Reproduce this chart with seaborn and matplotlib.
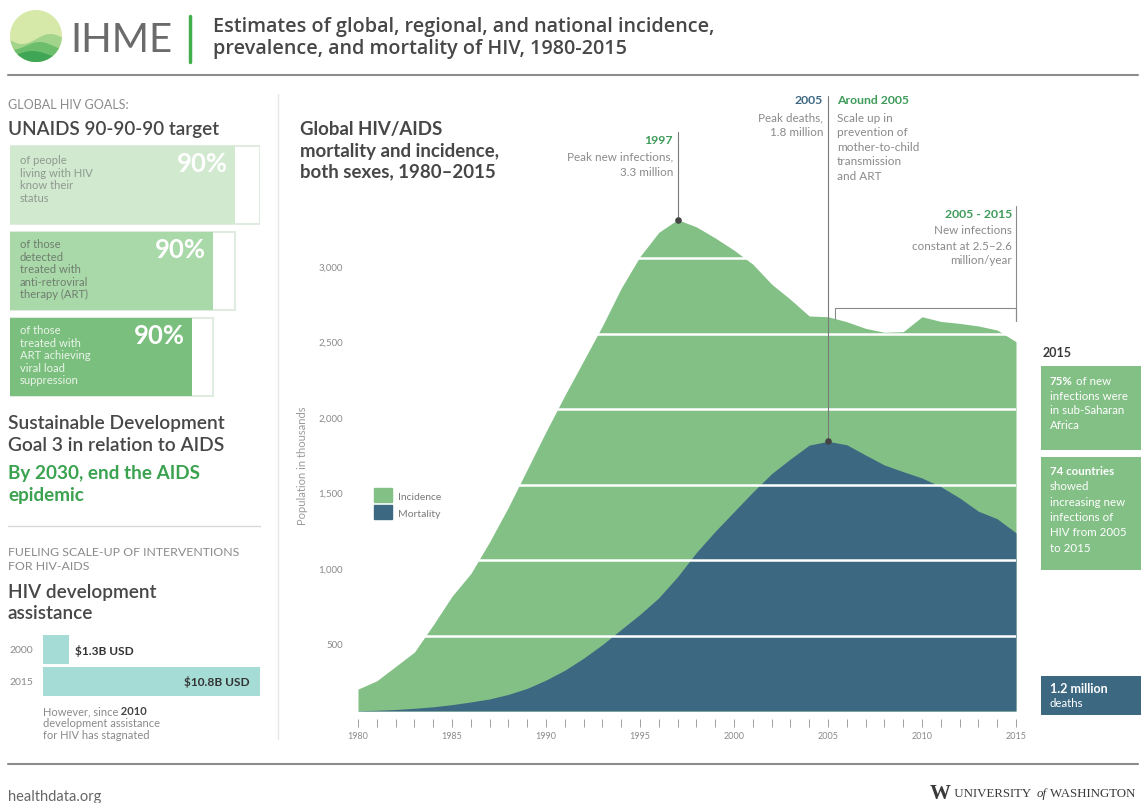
import numpy as np
import matplotlib
matplotlib.use("Agg")
import matplotlib.pyplot as plt
import seaborn as sns
from matplotlib.patches import Patch, Circle, Polygon
from matplotlib.transforms import ScaledTranslation

# ── data ─────────────────────────────────────────────────────────────────────
years = list(range(1980, 2016))
incidence = [145, 200, 295, 390, 570, 760, 910, 1120, 1350, 1600,
             1850, 2090, 2320, 2550, 2800, 3010, 3170, 3254, 3206, 3133,
             3052, 2959, 2827, 2726, 2616, 2611, 2578, 2534, 2508, 2512,
             2611, 2580, 2567, 2550, 2523, 2446]
mortality = [2, 5, 10, 18, 28, 42, 60, 80, 110, 150,
             205, 270, 350, 440, 540, 640, 750, 890, 1050, 1190,
             1320, 1450, 1572, 1669, 1761, 1786, 1763, 1695, 1629, 1585,
             1543, 1486, 1411, 1323, 1273, 1180]
y_ticks = [500, 1000, 1500, 2000, 2500, 3000]

goal_keys = ["know", "treated", "suppressed"]
goal_outline = [100, 90, 81]
goal_fill = [90, 81, 72.9]
goal_pct = ["90%", "90%", "90%"]

aid_years = ["2000", "2015"]
aid_usd_b = [1.3, 10.8]

# ── colours ──────────────────────────────────────────────────────────────────
GREEN = "#83C086"
BLUE = "#3D6882"
DARK = "#474747"
GRAY = "#8A8A8A"
GTEXT = "#3BA24F"

W, H = 1141, 804
sns.set_theme(style="white")
plt.rcParams["font.family"] = ["Lato", "DejaVu Sans"]

fig = plt.figure(figsize=(W / 100, H / 100), dpi=100)
fig.patch.set_facecolor("white")


def px_axes(l, t, r, b, **kw):
    return fig.add_axes([l / W, 1 - b / H, (r - l) / W, (b - t) / H], **kw)


# overlay in pixel coordinates for text and decoration
ov = px_axes(0, 0, W, H, zorder=10)
ov.set_xlim(0, W)
ov.set_ylim(H, 0)
ov.set_axis_off()
ov.patch.set_visible(False)
renderer = fig.canvas.get_renderer()


def txt(x, y, s, size=8, color=GRAY, weight="normal", ha="left", **kw):
    return ov.text(x, y, s, fontsize=size, color=color, fontweight=weight,
                   ha=ha, va="center", **kw)


def rich(x, y, parts, size=8):
    # spaces go at the start of a part, trailing ones are not measured
    for s, weight, color in parts:
        t = txt(x, y, s, size=size, color=color, weight=weight)
        x += t.get_window_extent(renderer=renderer).width


# ── header ───────────────────────────────────────────────────────────────────
logo = Circle((36, 37), 26, fc="#D6E9A8", ec="none")
ov.add_patch(logo)
xs = np.linspace(8, 64, 60)
for base, amp, ph, col in [(40, 5, 0.0, "#A3D48C"), (47, 4, 1.2, "#6DBE6C"), (55, 3, 2.0, "#3FA655")]:
    top = base + amp * np.sin((xs - 8) / 9 + ph)
    pts = np.column_stack([np.r_[xs, xs[::-1]], np.r_[top, np.full_like(xs, 70)]])
    p = Polygon(pts, fc=col, ec="none")
    ov.add_patch(p)
    p.set_clip_path(logo)
txt(70, 40, "IHME", size=29, color="#6B6B6B")
ov.plot([190, 190], [17, 63], color="#43AE4E", lw=2.5)
open_sans = ["Open Sans", "DejaVu Sans"]
txt(213, 27, "Estimates of global, regional, and national incidence,", size=14.2,
    color=DARK, weight="semibold", family=open_sans)
txt(213, 49, "prevalence, and mortality of HIV, 1980-2015", size=14.2,
    color=DARK, weight="semibold", family=open_sans)
ov.plot([8, 1138], [76, 76], color="#8C8C8C", lw=1.5)

# ── footer ───────────────────────────────────────────────────────────────────
ov.plot([8, 1138], [765, 765], color="#8C8C8C", lw=1.5)
txt(8, 797, "healthdata.org", size=10.5, color="#666666")
serif = ["Liberation Serif", "DejaVu Serif"]
x0 = 930
for s, st, sz, wt in [("W", "normal", 15, "bold"), (" UNIVERSITY ", "normal", 9.3, "normal"),
                      ("of", "italic", 9.3, "normal"), (" WASHINGTON", "normal", 9.3, "normal")]:
    t = txt(x0, 794, s, size=sz, color="#3A3A3A", weight=wt, family=serif, style=st)
    x0 += t.get_window_extent(renderer=renderer).width + (3 if s.endswith(" ") else 0)

# separators
ov.plot([278, 278], [95, 740], color="#E6E6E6", lw=1)
ov.plot([8, 260], [527, 527], color="#D9D9D9", lw=1)

# ── left panel: 90-90-90 ─────────────────────────────────────────────────────
txt(8, 105, "GLOBAL HIV GOALS:", size=9, color=GRAY)
txt(8, 129, "UNAIDS 90-90-90 target", size=13.6, color=DARK, weight="semibold")

gax = px_axes(10, 143, 260, 401)
sns.barplot(x=goal_outline, y=goal_keys, color="white", edgecolor="#E0ECDF",
            linewidth=1.5, width=0.9, saturation=1, ax=gax)
sns.barplot(x=goal_fill, y=goal_keys, hue=goal_keys, legend=False,
            palette=["#D0E9CF", "#A9D8A9", "#7ABF7D"], width=0.9, linewidth=0,
            saturation=1, ax=gax)
gax.set_xlim(0, 100)
gax.set_ylim(2.5, -0.5)
gax.set_axis_off()
for i, (v, s) in enumerate(zip(goal_fill, goal_pct)):
    gax.text(v - 2.8, i - 0.25, s, ha="right", va="center", fontsize=18.5,
             fontweight="bold", color="white")

goal_text = [
    (["of people", "living with HIV", "know their", "status"], 161, "#8F9A8F"),
    (["of those", "detected", "treated with", "anti-retroviral", "therapy (ART)"], 245, "#6F7F6F"),
    (["of those", "treated with", "ART achieving", "viral load", "suppression"], 331, "#EAF4EA"),
]
for lines, y0, col in goal_text:
    for k, line in enumerate(lines):
        txt(20, y0 + k * 12.4, line, size=8.1, color=col)

txt(8, 424, "Sustainable Development", size=13.8, color=DARK, weight="semibold")
txt(8, 446, "Goal 3 in relation to AIDS", size=13.8, color=DARK, weight="semibold")
txt(8, 474, "By 2030, end the AIDS", size=13.6, color=GTEXT, weight="bold")
txt(8, 496, "epidemic", size=13.6, color=GTEXT, weight="bold")

txt(8, 553, "FUELING SCALE-UP OF INTERVENTIONS", size=8.9, color=GRAY)
txt(8, 567, "FOR HIV-AIDS", size=8.9, color=GRAY)
txt(8, 593, "HIV development", size=13.7, color=DARK, weight="semibold")
txt(8, 614, "assistance", size=13.7, color=DARK, weight="semibold")

aax = px_axes(43, 635, 260, 698)
sns.barplot(x=aid_usd_b, y=aid_years, color="#A6DCD6", width=0.92,
            linewidth=0, saturation=1, ax=aax)
aax.set_xlim(0, aid_usd_b[1])
aax.set_ylim(1.5, -0.5)
aax.set_axis_off()
for i, v in enumerate(aid_usd_b):
    aax.text(-0.5, i, aid_years[i], ha="right", va="center", fontsize=7.5, color=GRAY)
aax.text(aid_usd_b[0] + 0.3, 0, f"\\${aid_usd_b[0]}B USD", ha="left", va="center",
         fontsize=8.6, fontweight="bold", color="#333333")
aax.text(aid_usd_b[1] - 0.5, 1, f"\\${aid_usd_b[1]}B USD", ha="right", va="center",
         fontsize=8.6, fontweight="bold", color="#333333")

rich(43, 712, [("However, since", "normal", GRAY), (" 2010", "bold", "#444444")], size=8)
txt(43, 724, "development assistance", size=8)
txt(43, 736, "for HIV has stagnated", size=8)

# ── main chart ───────────────────────────────────────────────────────────────
Y0, S = 712, 453 / 3000  # baseline pixel, pixels per thousand
YMAX = 3400
ax = px_axes(358, Y0 - YMAX * S, 1016, Y0)
ax.fill_between(years, 0, incidence, color=GREEN, lw=0, zorder=1)
ax.fill_between(years, 0, mortality, color=BLUE, lw=0, zorder=1.5)
ax.set_xlim(1980, 2015)
ax.set_ylim(0, YMAX)
ax.set_yticks(y_ticks)
ax.set_yticklabels([f"{v:,}" for v in y_ticks])
ax.grid(axis="y", color="white", lw=1.8)
ax.grid(axis="x", visible=False)
ax.set_axisbelow(False)
for sp in ["left", "right", "top"]:
    ax.spines[sp].set_visible(False)
ax.spines["bottom"].set_position(("outward", 5.8))
ax.spines["bottom"].set_visible(False)
ax.set_xticks(years)
ax.set_xticklabels([str(y) if y % 5 == 0 else "" for y in years])
ax.tick_params(axis="x", bottom=True, length=5.8, width=0.7, color="#A0A0A0",
               labelsize=6.5, labelcolor=GRAY, pad=3)
ax.tick_params(axis="y", left=False, length=0, labelsize=7, labelcolor=GRAY, pad=11)
off = ScaledTranslation(0, -8 / 100, fig.dpi_scale_trans)
for lab in ax.get_yticklabels():
    lab.set_transform(lab.get_transform() + off)
ax.set_ylabel("Population in thousands", fontsize=8, color="#9A9A9A")
ax.yaxis.set_label_coords((308 - 358) / 658, (Y0 - 466) / (YMAX * S))
ax.patch.set_visible(False)

ax.legend(handles=[Patch(color=GREEN, label="Incidence"), Patch(color=BLUE, label="Mortality")],
          loc="upper left", bbox_to_anchor=(374, 489), bbox_transform=ov.transData,
          frameon=False, fontsize=7.5, labelcolor="#7A7A7A", handlelength=1.75,
          handleheight=1.75, handletextpad=0.6, labelspacing=0.25, borderpad=0,
          borderaxespad=0)


def v_at(py):
    return (Y0 - py) / S


i97 = years.index(1997)
i05 = years.index(2005)
ax.plot([1997, 1997], [incidence[i97], v_at(133)], color="#7A7A7A", lw=0.8, clip_on=False, zorder=3)
ax.plot([2005, 2005], [mortality[i05], v_at(97)], color="#7A7A7A", lw=0.8, clip_on=False, zorder=3)
ax.scatter([1997, 2005], [incidence[i97], mortality[i05]], s=14, color="#444444", zorder=4, clip_on=False)
# 2005-2015 bracket
bx = 2005 + 7 / 18.8
ax.plot([bx, bx, 2015, 2015], [v_at(320), v_at(309), v_at(309), v_at(322)],
        color="#8A8A8A", lw=0.8, clip_on=False, zorder=3)
ax.plot([2015, 2015], [v_at(322), v_at(207)], color="#8A8A8A", lw=0.8, clip_on=False, zorder=3)

# chart title + annotations
for k, line in enumerate(["Global HIV/AIDS", "mortality and incidence,", "both sexes, 1980\u20132015"]):
    txt(300, 130 + k * 21, line, size=13.4, color=DARK, weight="bold")

txt(673, 141, "1997", size=8.8, color="#3E9B59", weight="bold", ha="right")
txt(673, 157, "Peak new infections,", size=8.4, ha="right")
txt(673, 172, "3.3 million", size=8.4, ha="right")

txt(823, 101, "2005", size=8.8, color=BLUE, weight="bold", ha="right")
txt(823, 118, "Peak deaths,", size=8.4, ha="right")
txt(823, 133, "1.8 million", size=8.4, ha="right")

txt(837, 101, "Around 2005", size=8.8, color="#3E9B59", weight="bold")
for k, line in enumerate(["Scale up in", "prevention of", "mother-to-child", "transmission", "and ART"]):
    txt(837, 118 + k * 14.6, line, size=8.5)

txt(1012, 214, "2005 - 2015", size=8.8, color="#3E9B59", weight="bold", ha="right")
for k, line in enumerate(["New infections", "constant at 2.5\u20132.6", "million/year"]):
    txt(1012, 231 + k * 15, line, size=8.4, ha="right")

# right-hand callouts
txt(1043, 353, "2015", size=9, color="#3A3A3A", weight="bold")
ov.fill_between([1041, W], 367, 451, color=GREEN, lw=0)
ov.fill_between([1041, W], 458, 571, color=GREEN, lw=0)
ov.fill_between([1041, W], 677, 716, color=BLUE, lw=0)
rich(1050, 382, [("75%", "bold", "white"), (" of new", "normal", "white")], size=8.3)
for k, line in enumerate(["infections were", "in sub-Saharan", "Africa"]):
    txt(1050, 396.5 + k * 14.4, line, size=8.3, color="white")
txt(1050, 472, "74 countries", size=8.3, color="white", weight="bold")
for k, line in enumerate(["showed", "increasing new", "infections of", "HIV from 2005", "to 2015"]):
    txt(1050, 487 + k * 15.3, line, size=8.3, color="white")
txt(1050, 689, "1.2 million", size=9, color="white", weight="bold")
txt(1050, 704, "deaths", size=8.3, color="white")

fig.savefig("out.png", dpi=100, facecolor="white")
